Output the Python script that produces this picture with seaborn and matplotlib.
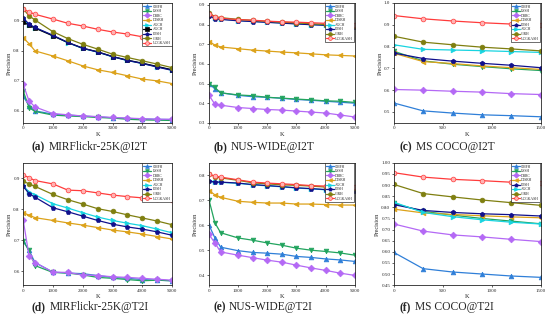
import numpy as np
import pandas as pd
import matplotlib
matplotlib.use('Agg')
import matplotlib.pyplot as plt
import seaborn as sns

# ---------------------------------------------------------
# Data (precision vs K)
# ---------------------------------------------------------
K_MIR = [1, 200, 400, 1000, 1500, 2000, 2500, 3000, 3500, 4000, 4500, 5000]
K_NUS = [1, 200, 400, 1000, 1500, 2000, 2500, 3000, 3500, 4000, 4500, 5000]
K_COCO = [1, 300, 600, 900, 1200, 1500]

mir_i2t = {
    'CMFH':    [0.650, 0.617, 0.600, 0.589, 0.586, 0.583, 0.580, 0.577, 0.575, 0.573, 0.572, 0.571],
    'LSSH':    [0.667, 0.611, 0.598, 0.586, 0.583, 0.581, 0.578, 0.576, 0.572, 0.570, 0.569, 0.568],
    'DBRC':    [0.689, 0.633, 0.613, 0.591, 0.587, 0.583, 0.581, 0.578, 0.576, 0.574, 0.572, 0.572],
    'DJSRH':   [0.844, 0.824, 0.800, 0.783, 0.767, 0.750, 0.737, 0.728, 0.717, 0.706, 0.700, 0.691],
    'AGCH':    [0.905, 0.887, 0.877, 0.851, 0.827, 0.808, 0.796, 0.780, 0.768, 0.758, 0.747, 0.736],
    'AGCH ':   [0.897, 0.885, 0.876, 0.850, 0.828, 0.809, 0.797, 0.781, 0.769, 0.759, 0.748, 0.737],
    'JDSH':    [0.910, 0.889, 0.878, 0.852, 0.828, 0.809, 0.796, 0.781, 0.768, 0.758, 0.746, 0.735],
    'CIRH':    [0.940, 0.917, 0.903, 0.864, 0.841, 0.822, 0.806, 0.789, 0.778, 0.767, 0.756, 0.744],
    'UCGKASH': [0.939, 0.930, 0.922, 0.906, 0.892, 0.883, 0.872, 0.863, 0.856, 0.847, 0.840, 0.836],
}

nus_i2t = {
    'CMFH':    [0.500, 0.473, 0.453, 0.440, 0.433, 0.430, 0.425, 0.419, 0.415, 0.410, 0.405, 0.400],
    'LSSH':    [0.500, 0.480, 0.453, 0.442, 0.438, 0.430, 0.426, 0.421, 0.417, 0.412, 0.410, 0.404],
    'DBRC':    [0.440, 0.395, 0.390, 0.378, 0.373, 0.368, 0.365, 0.360, 0.355, 0.350, 0.340, 0.330],
    'DJSRH':   [0.713, 0.696, 0.686, 0.677, 0.670, 0.665, 0.660, 0.656, 0.651, 0.646, 0.643, 0.640],
    'AGCH':    [0.848, 0.832, 0.828, 0.820, 0.816, 0.812, 0.808, 0.804, 0.800, 0.797, 0.794, 0.790],
    'JDSH':    [0.845, 0.830, 0.826, 0.819, 0.815, 0.811, 0.807, 0.803, 0.799, 0.796, 0.793, 0.789],
    'CIRH':    [0.860, 0.840, 0.835, 0.826, 0.821, 0.816, 0.812, 0.808, 0.804, 0.800, 0.797, 0.794],
    'UCGKASH': [0.855, 0.838, 0.832, 0.825, 0.822, 0.817, 0.814, 0.812, 0.809, 0.806, 0.803, 0.800],
}

coco_i2t = {
    'CMFH':    [0.541, 0.505, 0.495, 0.487, 0.483, 0.478],
    'LSSH':    [0.778, 0.734, 0.719, 0.708, 0.698, 0.690],
    'DBRC':    [0.603, 0.600, 0.595, 0.591, 0.584, 0.580],
    'DJSRH':   [0.769, 0.731, 0.722, 0.711, 0.703, 0.695],
    'JDSH':    [0.770, 0.745, 0.733, 0.723, 0.714, 0.703],
    'AGCH':    [0.808, 0.787, 0.784, 0.781, 0.777, 0.773],
    'CIRH':    [0.847, 0.820, 0.808, 0.797, 0.789, 0.780],
    'UCGKASH': [0.942, 0.927, 0.917, 0.909, 0.903, 0.898],
}

mir_t2i = {
    'CMFH':    [0.698, 0.667, 0.628, 0.597, 0.594, 0.592, 0.586, 0.580, 0.577, 0.573, 0.571, 0.569],
    'LSSH':    [0.698, 0.667, 0.618, 0.596, 0.594, 0.588, 0.580, 0.577, 0.573, 0.569, 0.571, 0.569],
    'DBRC':    [0.766, 0.650, 0.628, 0.597, 0.596, 0.588, 0.586, 0.582, 0.580, 0.577, 0.574, 0.571],
    'DJSRH':   [0.789, 0.781, 0.773, 0.764, 0.756, 0.749, 0.741, 0.733, 0.727, 0.720, 0.712, 0.704],
    'AGCH':    [0.877, 0.856, 0.847, 0.818, 0.804, 0.789, 0.775, 0.764, 0.755, 0.747, 0.736, 0.724],
    'JDSH':    [0.874, 0.851, 0.839, 0.805, 0.792, 0.778, 0.764, 0.752, 0.743, 0.736, 0.727, 0.716],
    'CIRH':    [0.891, 0.882, 0.874, 0.848, 0.831, 0.817, 0.802, 0.793, 0.782, 0.772, 0.762, 0.750],
    'UCGKASH': [0.911, 0.902, 0.893, 0.882, 0.862, 0.860, 0.853, 0.846, 0.841, 0.837, 0.833, 0.830],
}

nus_t2i = {
    'CMFH':    [0.600, 0.550, 0.512, 0.498, 0.491, 0.488, 0.484, 0.475, 0.471, 0.465, 0.461, 0.455],
    'LSSH':    [0.701, 0.610, 0.570, 0.549, 0.540, 0.529, 0.520, 0.508, 0.500, 0.495, 0.489, 0.480],
    'DBRC':    [0.563, 0.529, 0.493, 0.480, 0.470, 0.460, 0.452, 0.440, 0.429, 0.419, 0.408, 0.399],
    'DJSRH':   [0.739, 0.722, 0.712, 0.696, 0.692, 0.689, 0.689, 0.685, 0.685, 0.683, 0.681, 0.681],
    'AGCH':    [0.776, 0.772, 0.772, 0.768, 0.762, 0.758, 0.754, 0.749, 0.746, 0.742, 0.739, 0.736],
    'JDSH':    [0.777, 0.773, 0.773, 0.769, 0.763, 0.759, 0.755, 0.750, 0.747, 0.743, 0.740, 0.737],
    'CIRH':    [0.805, 0.795, 0.790, 0.780, 0.770, 0.766, 0.762, 0.760, 0.757, 0.753, 0.750, 0.748],
    'UCGKASH': [0.804, 0.797, 0.793, 0.782, 0.773, 0.769, 0.766, 0.763, 0.759, 0.757, 0.755, 0.752],
}

coco_t2i = {
    'CMFH':    [0.597, 0.524, 0.509, 0.500, 0.491, 0.485],
    'LSSH':    [0.818, 0.782, 0.765, 0.750, 0.738, 0.726],
    'DBRC':    [0.725, 0.693, 0.676, 0.667, 0.656, 0.646],
    'DJSRH':   [0.792, 0.775, 0.768, 0.762, 0.757, 0.753],
    'JDSH':    [0.812, 0.786, 0.777, 0.771, 0.767, 0.761],
    'AGCH':    [0.823, 0.777, 0.758, 0.744, 0.733, 0.725],
    'CIRH':    [0.903, 0.862, 0.847, 0.833, 0.821, 0.809],
    'UCGKASH': [0.956, 0.936, 0.926, 0.920, 0.913, 0.909],
}

captions = [('(a)', 'MIRFlickr-25K@I2T'), ('(b)', 'NUS-WIDE@I2T'), ('(c)', 'MS COCO@I2T'),
            ('(d)', 'MIRFlickr-25K@T2I'), ('(e)', 'NUS-WIDE@T2I'), ('(f)', 'MS COCO@T2I')]

# method -> (line colour, marker, marker face)
styles = {
    'CMFH':    ('#2f7fd8', '^', None),
    'LSSH':    ('#22a45e', 'v', None),
    'DBRC':    ('#b469f5', 'D', None),
    'DJSRH':   ('#dca21a', '<', None),
    'AGCH':    ('#18d4e0', '>', None),
    'AGCH ':   ('#000000', 's', None),
    'JDSH':    ('#10108c', 'p', None),
    'CIRH':    ('#7f7f10', 'o', None),
    'UCGKASH': ('#ff3b3b', 'o', '#ffb3b3'),
}

sns.set_style('ticks')
plt.rcParams['font.family'] = ['Liberation Serif', 'DejaVu Serif']

fig = plt.figure(figsize=(5.5, 3.2), dpi=100)

panels = [
    (mir_i2t, K_MIR, (0.56, 0.96), [0.6, 0.7, 0.8, 0.9], '{:.1f}', [0, 1000, 2000, 3000, 4000, 5000], (0, 5000)),
    (nus_i2t, K_NUS, (0.30, 0.91), [0.3, 0.4, 0.5, 0.6, 0.7, 0.8, 0.9], '{:.1f}', [0, 1000, 2000, 3000, 4000, 5000], (0, 5000)),
    (coco_i2t, K_COCO, (0.45, 1.0), [0.5, 0.6, 0.7, 0.8, 0.9, 1.0], '{:.1f}', [0, 500, 1000, 1500], (0, 1500)),
    (mir_t2i, K_MIR, (0.555, 0.95), [0.6, 0.7, 0.8, 0.9], '{:.1f}', [0, 1000, 2000, 3000, 4000, 5000], (0, 5000)),
    (nus_t2i, K_NUS, (0.36, 0.85), [0.4, 0.5, 0.6, 0.7, 0.8], '{:.1f}', [0, 1000, 2000, 3000, 4000, 5000], (0, 5000)),
    (coco_t2i, K_COCO, (0.45, 1.0), list(np.arange(0.45, 1.001, 0.05)), '{:.2f}', [0, 500, 1000, 1500], (0, 1500)),
]

lefts = [0.042, 0.380, 0.716]
widths = [0.271, 0.265, 0.267]
bottoms = [0.616, 0.109]
heights = [0.375, 0.382]
cap_x = [32 / 550, 213 / 550, 400 / 550]
cap_y = [1 - 153 / 320, 1 - 313 / 320]

for i, (vals, ks, ylim, yticks, yfmt, xticks, xlim) in enumerate(panels):
    r, c = divmod(i, 3)
    ax = fig.add_axes([lefts[c], bottoms[r], widths[c], heights[r]])
    for name, ys in vals.items():
        col, mk, face = styles[name]
        sns.lineplot(x=ks, y=ys, ax=ax, color=col, marker=mk, markersize=3.4,
                     markerfacecolor=face if face else col, markeredgecolor=col,
                     markeredgewidth=0.5, linewidth=0.9, label=name.strip())
    ax.set_xlim(*xlim)
    ax.set_ylim(*ylim)
    ax.set_xticks(xticks)
    ax.set_yticks(yticks)
    ax.set_yticklabels([yfmt.format(t) for t in yticks])
    ax.tick_params(labelsize=3.6, length=1.5, width=0.5, pad=1)
    ax.set_xlabel('K', fontsize=4.5, labelpad=1)
    ax.set_ylabel('Precision', fontsize=4.5, labelpad=1)
    for sp in ax.spines.values():
        sp.set_visible(True)
        sp.set_linewidth(0.6)
    leg = ax.legend(loc='upper right', fontsize=2.7, frameon=True, fancybox=False,
                    framealpha=1, edgecolor='black', borderpad=0.3, labelspacing=0.15,
                    handlelength=2.2, handletextpad=0.3, borderaxespad=0.15,
                    markerscale=0.8)
    leg.get_frame().set_linewidth(0.4)

    tag, title = captions[i]
    t1 = fig.text(cap_x[c], cap_y[r], tag, fontsize=8.3, fontweight='bold', ha='left', va='bottom')
    ax.annotate(title, xy=(1, 0), xycoords=t1, xytext=(2.5, 0), textcoords='offset points',
                fontsize=8.3, ha='left', va='bottom', annotation_clip=False)

fig.savefig('out.png', dpi=100)
